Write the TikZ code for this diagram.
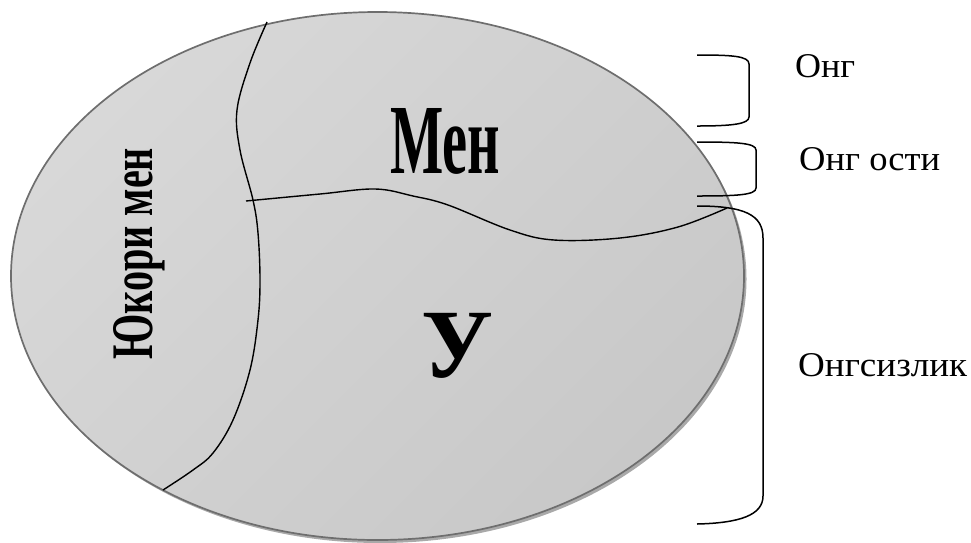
\documentclass[tikz,border=0pt]{standalone}
\usepackage{fontspec}
\setmainfont{Liberation Serif}
\usepackage{graphicx}
\definecolor{rim}{HTML}{6E6E6E}
\definecolor{shadowgray}{HTML}{A9A9A9}
\definecolor{fillA}{HTML}{D8D8D8}
\definecolor{fillB}{HTML}{C8C8C8}
\tikzset{
  divider/.style={line width=1.4pt, black},
  brace/.style={line width=1.5pt, black},
  sidelabel/.style={inner sep=0pt, anchor=base west},
  biglabel/.style={inner sep=0pt}
}
\begin{document}
\begin{tikzpicture}[x=1pt,y=-1pt]
\useasboundingbox (0,0) rectangle (971,542);
% shadow
\fill[shadowgray] (380,279) ellipse [x radius=366.5, y radius=264];
% body
\shade[left color=fillA, right color=fillB, shading angle=45] (377.5,276) ellipse [x radius=366.5, y radius=264];
\draw[rim, line width=1.7pt] (377.5,276) ellipse [x radius=366.5, y radius=264];
% region boundaries
\draw[divider] plot[smooth, tension=0.6] coordinates {(267,22) (250,63) (237,110) (240,150) (253,200) (258,233) (260,280) (258,320) (250,370) (233,420) (213,453) (193,470) (163,490)};
\draw[divider] plot[smooth, tension=0.6] coordinates {(246,201) (320,194) (375,189) (413,196) (448,205) (510,230) (554,240) (620,238) (678,227) (727,208)};
% texts inside
\node[biglabel, anchor=base west] (men) at (390,173) {\resizebox{110pt}{65pt}{\bfseries Мен}};
\node[biglabel, anchor=base west, rotate=90] (yukori) at (152,360) {\resizebox{212pt}{39pt}{\bfseries Юкори мен}};
\node[biglabel, anchor=base] (u) at (457,377) {\fontsize{98}{100}\selectfont\bfseries У};
% braces
\draw[brace] (697,55) .. controls (732,55) and (749,56) .. (749,64) -- (749,117) .. controls (749,124) and (732,126) .. (697,126);
\draw[brace] (697,142) .. controls (737,142) and (756,143) .. (756,150) -- (756,188) .. controls (756,195) and (737,196) .. (697,196);
\draw[brace] (697,206) .. controls (745,206) and (763,215) .. (763,238) -- (763,496) .. controls (763,515) and (740,523) .. (697,524);
% side labels
\node[sidelabel] (ong) at (795,77) {\resizebox{60pt}{23pt}{Онг}};
\node[sidelabel] (ongosti) at (799,170) {\resizebox{141pt}{23pt}{Онг ости}};
\node[sidelabel] (ongsiz) at (798,376) {\resizebox{169pt}{23pt}{Онгсизлик}};
\end{tikzpicture}
\end{document}
